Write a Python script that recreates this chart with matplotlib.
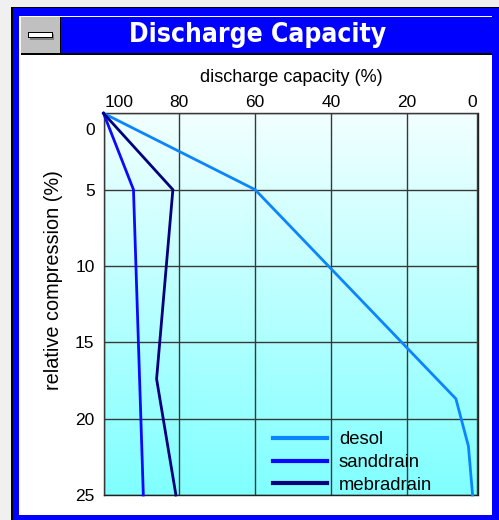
import numpy as np
import matplotlib
matplotlib.use("Agg")
import matplotlib.pyplot as plt
from matplotlib.patches import Rectangle
from matplotlib.transforms import ScaledTranslation

# Discharge capacity (%) versus relative compression (%)
desol_capacity = [100, 60, 7.0, 3.7, 2.6]
desol_compression = [0, 5, 18.7, 21.8, 25]

sanddrain_capacity = [100, 92.1, 89.5]
sanddrain_compression = [0, 5, 25]

mebradrain_capacity = [100, 81.7, 86.0, 80.9]
mebradrain_compression = [0, 5, 17.4, 25]

series_names = ["desol", "sanddrain", "mebradrain"]
series_colors = ["#0a84ff", "#0a0aff", "#00007f"]

x_ticks = [100, 80, 60, 40, 20, 0]
x_tick_labels = ["100", "80", "60", "40", "20", "0"]
y_ticks = [0, 5, 10, 15, 20, 25]

X_VIEW = (99.8, 1.3)
Y_VIEW = (25, 0)

W, H = 499, 520
plt.rcParams["font.family"] = ["Liberation Sans", "DejaVu Sans"]

fig = plt.figure(figsize=(W / 100, H / 100), dpi=100)
fig.patch.set_facecolor("#f0f0f0")

# window frame drawn in pixel coordinates
bg = fig.add_axes([0, 0, 1, 1], zorder=-5)
bg.set_xlim(0, W)
bg.set_ylim(H, 0)
bg.axis("off")

def box(x0, y0, x1, y1, color, **kw):
    bg.add_patch(Rectangle((x0, y0), x1 - x0, y1 - y0, facecolor=color,
                           edgecolor="none", **kw))

box(11.5, 6.5, W + 1, H + 1, "#000000")
box(12.8, 7.8, W + 1, H + 1, "#0000ff")
box(19.3, 15.5, 491.8, 514.6, "#ffffff")
box(20.8, 17.0, 491.8, 53.0, "#0000ff")
box(20.8, 52.8, 491.8, 55.0, "#000000")
box(20.8, 17.0, 60.0, 53.0, "#c0c0c0")
box(60.0, 17.0, 61.5, 53.0, "#000000")
# minimize glyph
box(30.0, 34.0, 54.5, 39.8, "#808080")
box(28.0, 32.0, 52.8, 37.8, "#000000")
box(29.0, 33.0, 51.8, 36.8, "#ffffff")

title = bg.text(258, 35.5, "Discharge Capacity", color="white", ha="center",
                va="center", fontsize=22, fontweight="bold",
                fontstretch="condensed", family=["DejaVu Sans"])
# fit the caption to the width of the title bar text
fig.canvas.draw()
tw = title.get_window_extent().width
title.set_fontsize(22 * 256 / tw)

# plot area
left, right, top, bottom = 104.3, 477.5, 113.3, 495.0
ax = fig.add_axes([left / W, 1 - bottom / H, (right - left) / W, (bottom - top) / H])
ax.set_facecolor("none")

grad = np.linspace(0, 1, 256)[:, None]
top_c = np.array([242, 255, 255]) / 255
bot_c = np.array([128, 255, 255]) / 255
img = top_c[None, None, :] * (1 - grad[..., None]) + bot_c[None, None, :] * grad[..., None]
img = np.repeat(img, 2, axis=1)
ax.imshow(img, extent=[0, 1, 0, 1], transform=ax.transAxes, aspect="auto",
          origin="upper", zorder=0, interpolation="bilinear")

ax.set_xlim(*X_VIEW)
ax.set_ylim(*Y_VIEW)
# tick labels that fall at the ends are kept inside the plot frame
lo, hi = min(X_VIEW), max(X_VIEW)
ax.set_xticks([min(max(t, lo), hi) for t in x_ticks], labels=x_tick_labels)
ax.set_yticks(y_ticks)
ax.xaxis.tick_top()
ax.xaxis.set_label_position("top")
ax.tick_params(length=0, labelsize=12.5, colors="#000000")
ax.tick_params(axis="x", pad=2.5)
ax.tick_params(axis="y", pad=7)

xl = ax.get_xticklabels()
xl[0].set_ha("left")
xl[-1].set_ha("right")
yl = ax.get_yticklabels()
yl[0].set_va("top")
yl[0].set_transform(yl[0].get_transform()
                    + ScaledTranslation(0, -7 / 72, fig.dpi_scale_trans))

ax.grid(True, color="#383838", linewidth=1.0, zorder=1)
ax.set_axisbelow(False)
for s in ax.spines.values():
    s.set_color("#202020")
    s.set_linewidth(1.0)

ax.set_xlabel("discharge capacity (%)", fontsize=13, labelpad=9.5)
ax.set_ylabel("relative compression (%)", fontsize=14.3)
ax.yaxis.set_label_coords(-0.111, 0.563)

lines = [
    (desol_capacity, desol_compression),
    (sanddrain_capacity, sanddrain_compression),
    (mebradrain_capacity, mebradrain_compression),
]
for (xv, yv), name, col in zip(lines, series_names, series_colors):
    ax.plot(xv, yv, color=col, linewidth=2.0, label=name, zorder=3,
            solid_joinstyle="miter", clip_on=False)

leg = ax.legend(loc="lower left", bbox_to_anchor=(0.433, -0.016), frameon=False,
                fontsize=13.3, handlelength=2.9, handletextpad=0.65,
                labelspacing=0.31, borderaxespad=0.0)
for h in leg.get_lines():
    h.set_linewidth(3.0)

fig.savefig("out.png", dpi=100, facecolor=fig.get_facecolor())
